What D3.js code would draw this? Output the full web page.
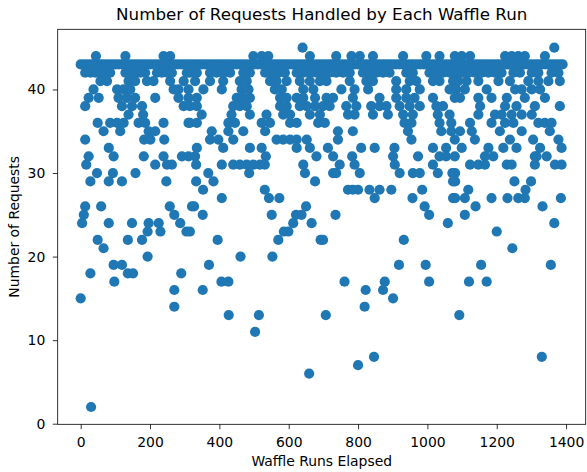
<!DOCTYPE html>
<html><head><meta charset="utf-8">
<script src="https://cdn.jsdelivr.net/npm/d3@7"></script>
<style>
body{margin:0;background:#fff}
svg{display:block}
text{font-family:"DejaVu Sans",sans-serif;fill:#000}
</style>
</head><body><svg id="chart" width="587" height="472"></svg>
<script>
const chartTitle = "Number of Requests Handled by Each Waffle Run";
const xLabel = "Waffle Runs Elapsed";
const yLabel = "Number of Requests";
const xTicks = [0,200,400,600,800,1000,1200,1400];
const yTicks = [0,10,20,30,40];

// runs (x), grouped by number of requests handled (y)
const runsAt45 = [640,1366];
const runsAt44 = [44,129,239,258,498,522,541,661,737,781,805,843,930,997,1035,1079,1099,1123,1224,1243,1262,1281,1339];
const runsAt43 = [0,10,20,30,40,50,60,70,80,90,100,110,120,130,140,150,160,170,180,190,200,210,220,230,240,250,260,270,280,290,300,310,320,330,340,350,360,370,380,390,400,410,420,430,440,450,460,470,480,490,500,510,520,530,540,550,560,570,580,590,600,610,620,630,640,650,660,670,680,690,700,710,720,730,740,750,760,770,780,790,800,810,820,830,840,850,860,870,880,890,900,910,920,930,940,950,960,970,980,990,1000,1010,1020,1030,1040,1050,1060,1070,1080,1090,1100,1110,1120,1130,1140,1150,1160,1170,1180,1190,1200,1210,1220,1230,1240,1250,1260,1270,1280,1290,1300,1310,1320,1330,1340,1350,1360,1370,1380,1390];
const runsAt42 = [13,28,42,57,71,85,129,143,157,172,186,220,234,249,263,306,315,335,373,392,411,431,469,488,532,551,570,589,623,642,661,680,700,718,737,757,776,814,833,853,872,891,939,958,1006,1026,1045,1064,1083,1099,1118,1137,1157,1176,1195,1214,1248,1267,1301,1320,1358,1378];
const runsAt41 = [57,76,138,157,191,210,258,297,330,373,411,459,479,546,565,594,632,661,690,709,776,824,843,910,949,968,1016,1035,1074,1089,1113,1147,1205,1238,1291,1320,1349,1382];
const runsAt40 = [37,105,124,143,268,282,311,354,407,464,484,560,580,642,671,752,790,829,910,939,978,1064,1083,1108,1171,1253,1272,1301,1325];
const runsAt39 = [23,52,109,133,157,215,282,311,335,450,469,488,575,594,623,642,676,709,728,785,862,910,939,963,1016,1079,1094,1147,1185,1229,1281,1339];
const runsAt38 = [13,119,148,177,297,315,335,440,459,479,575,594,632,652,676,699,718,766,795,838,862,882,920,949,978,1026,1045,1152,1224,1257,1310,1382];
const runsAt37 = [138,180,349,435,488,536,584,604,661,690,771,790,843,886,930,958,1030,1064,1147,1195,1214,1243,1272,1301];
const runsAt36 = [49,85,105,124,167,186,239,311,315,335,426,445,522,546,604,623,685,704,934,954,1035,1069,1123,1185,1224,1248,1320,1339,1358];
const runsAt35 = [66,114,196,215,378,426,469,532,742,785,944,1040,1069,1094,1128,1209,1272,1353];
const runsAt34 = [13,183,201,241,373,397,440,565,584,604,623,652,742,954,1079,1137,1238,1305,1378];
const runsAt33 = [81,335,411,488,522,623,661,713,809,848,905,1016,1054,1099,1176,1219,1257,1325,1387];
const runsAt32 = [23,95,182,239,292,311,330,534,680,728,783,901,973,1035,1054,1079,1166,1190,1310,1315,1344];
const runsAt31 = [16,215,249,263,333,407,440,459,479,498,517,531,642,747,790,906,1016,1123,1147,1166,1229,1243,1310,1368,1387];
const runsAt30 = [47,93,158,368,486,647,728,737,805,920,958,978,1030,1072,1080];
const runsAt29 = [28,81,119,247,333,383,676,1074,1080,1251,1299];
const runsAt28 = [353,531,771,785,800,833,862,896,985,1118,1283];
const runsAt27 = [407,543,573,848,957,1074,1080,1108,1185,1231,1262,1281,1385];
const runsAt26 = [13,59,257,321,327,650,992,1139,1332];
const runsAt25 = [9,270,352,551,621,637,735,1005,1108];
const runsAt24 = [4,81,148,196,225,287,613,666,1059,1366];
const runsAt23 = [193,230,305,315,586,599,1200];
const runsAt22 = [49,136,177,395,570,692,699,932];
const runsAt21 = [66,1245];
const runsAt20 = [193,461,553];
const runsAt19 = [95,119,370,918,995,1155,1356];
const runsAt18 = [28,136,151,290];
const runsAt17 = [97,406,426,761,877,1005,1120,1171];
const runsAt16 = [270,352,822,872];
const runsAt15 = [0,901];
const runsAt14 = [270,819];
const runsAt13 = [427,514,707,1092];
const runsAt11 = [503];
const runsAt8 = [846,1330];
const runsAt7 = [800];
const runsAt6 = [659];
const runsAt2 = [30];

const levels = [
  [45,runsAt45],[44,runsAt44],[43,runsAt43],[42,runsAt42],[41,runsAt41],[40,runsAt40],
  [39,runsAt39],[38,runsAt38],[37,runsAt37],[36,runsAt36],[35,runsAt35],[34,runsAt34],
  [33,runsAt33],[32,runsAt32],[31,runsAt31],[30,runsAt30],[29,runsAt29],[28,runsAt28],
  [27,runsAt27],[26,runsAt26],[25,runsAt25],[24,runsAt24],[23,runsAt23],[22,runsAt22],
  [21,runsAt21],[20,runsAt20],[19,runsAt19],[18,runsAt18],[17,runsAt17],[16,runsAt16],
  [15,runsAt15],[14,runsAt14],[13,runsAt13],[11,runsAt11],[8,runsAt8],[7,runsAt7],
  [6,runsAt6],[2,runsAt2]
];
const points = [];
levels.forEach(([v, runs]) => runs.forEach(r => points.push({run: r, requests: v})));

const svg = d3.select("#chart");
const L = 57.7, R = 585.7, T = 29.3, B = 424.3;
const x = d3.scaleLinear().domain([-66.3, 1456.6]).range([L, R]);
const y = d3.scaleLinear().domain([-0.07, 47.2]).range([B, T]);

// points
svg.append("g").selectAll("circle").data(points).join("circle")
  .attr("cx", d => x(d.run))
  .attr("cy", d => y(d.requests))
  .attr("r", 5.1)
  .attr("fill", "#1f77b4");

// axes
const xAxis = d3.axisBottom(x).tickValues(xTicks).tickFormat(d3.format("d")).tickSize(4.9).tickPadding(8).tickSizeOuter(0);
const yAxis = d3.axisLeft(y).tickValues(yTicks).tickFormat(d3.format("d")).tickSize(4.9).tickPadding(7.5).tickSizeOuter(0);
const gx = svg.append("g").attr("transform", `translate(0,${B})`).call(xAxis);
const gy = svg.append("g").attr("transform", `translate(${L},0)`).call(yAxis);
[gx, gy].forEach(g => {
  g.select(".domain").remove();
  g.selectAll("line").attr("stroke", "#000").attr("stroke-width", 0.8);
  g.selectAll("text").attr("font-size", "13.9px").attr("font-family", "DejaVu Sans, sans-serif").attr("fill", "#000");
});

// frame
svg.append("rect").attr("x", L).attr("y", T).attr("width", R - L).attr("height", B - T)
  .attr("fill", "none").attr("stroke", "#000").attr("stroke-width", 0.8);

// title and labels
svg.append("text").attr("x", (L + R) / 2).attr("y", 20).attr("text-anchor", "middle")
  .attr("font-size", "16.7px").text(chartTitle);
svg.append("text").attr("x", (L + R) / 2).attr("y", 466).attr("text-anchor", "middle")
  .attr("font-size", "13.9px").text(xLabel);
svg.append("text").attr("transform", `translate(19,${(T + B) / 2}) rotate(-90)`).attr("text-anchor", "middle")
  .attr("font-size", "13.9px").text(yLabel);
</script>
</body></html>
